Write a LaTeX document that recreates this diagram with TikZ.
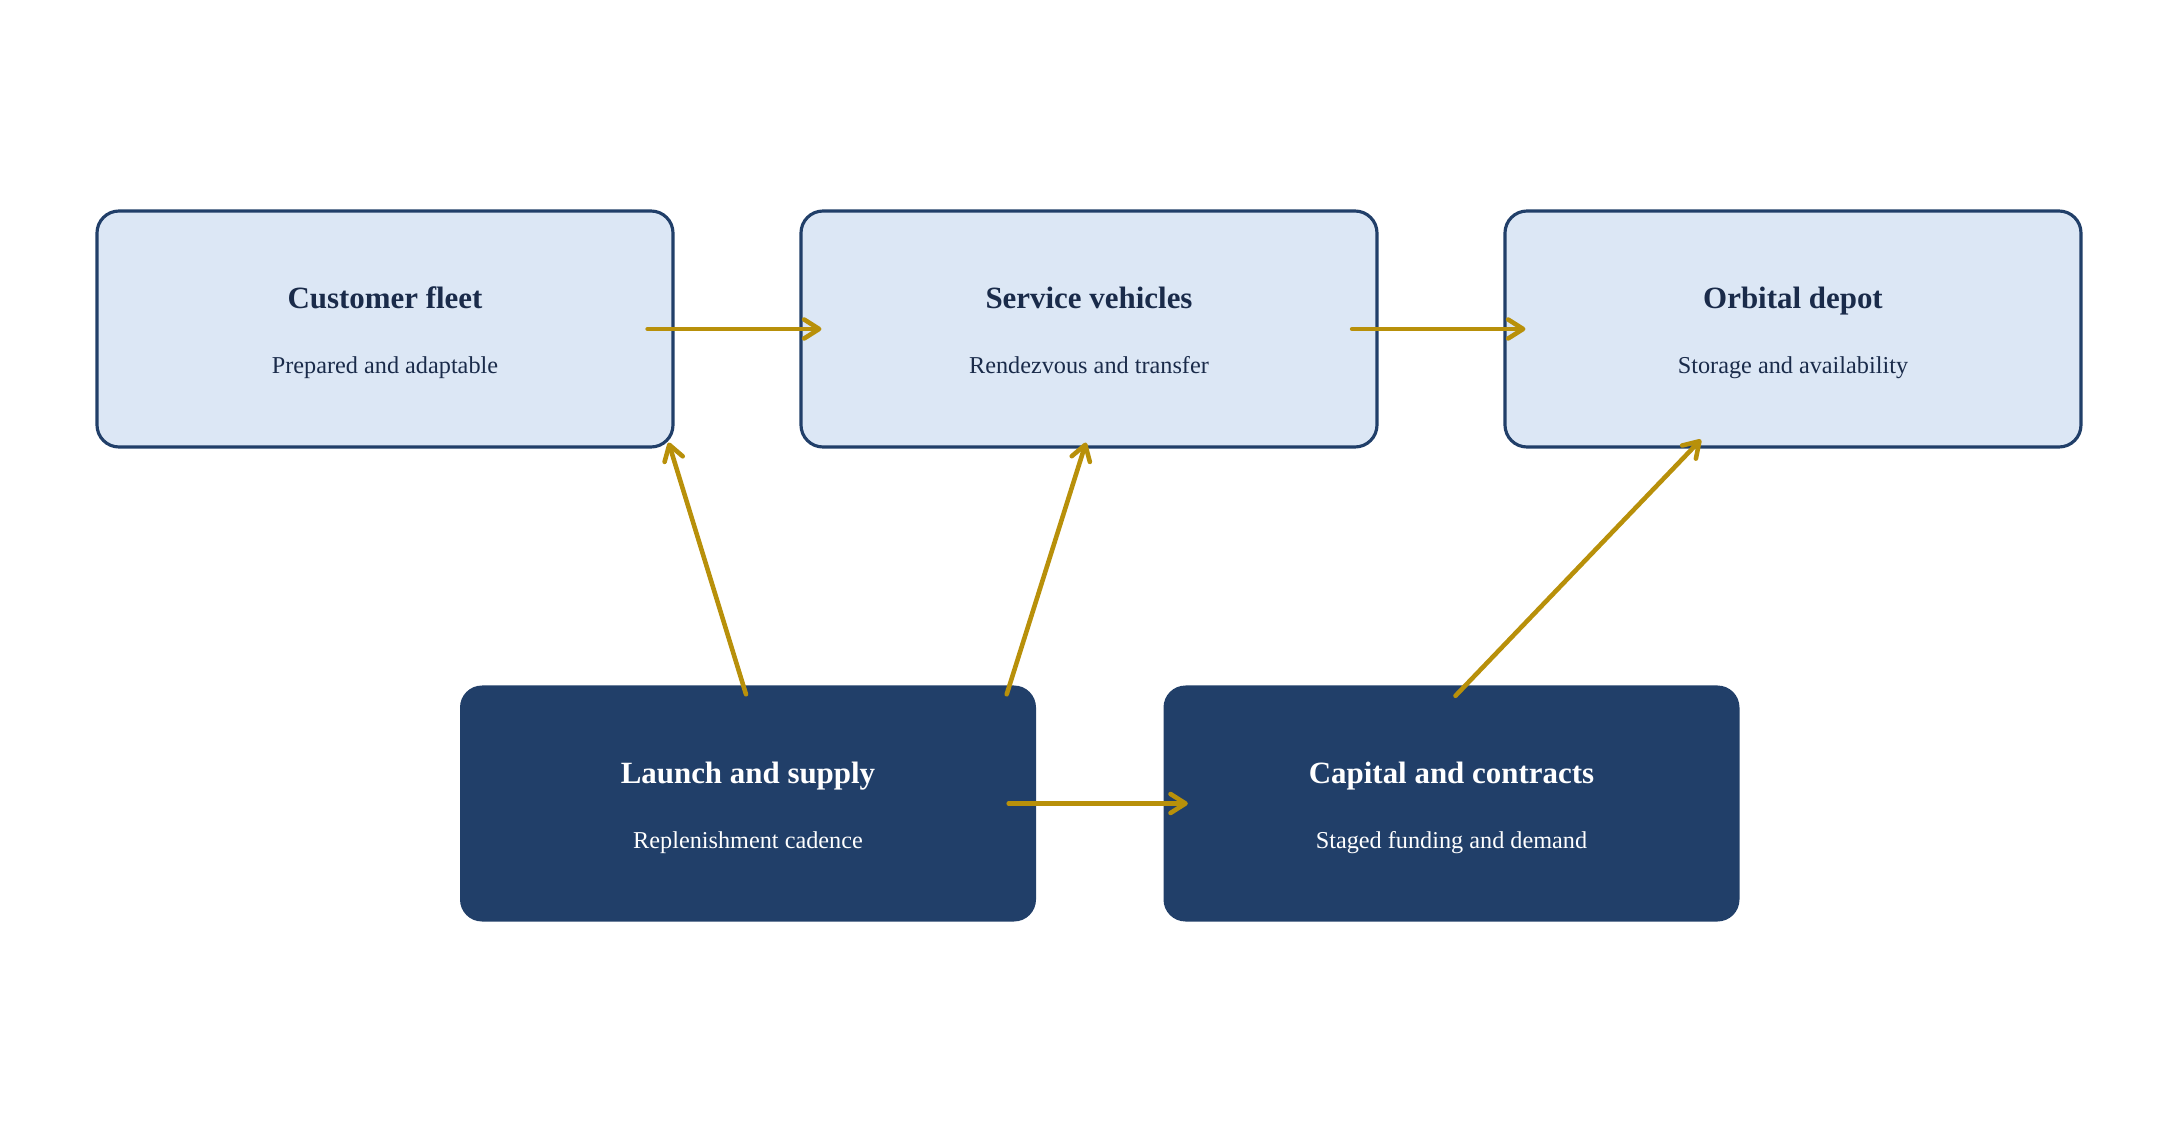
\documentclass[tikz,border=0pt]{standalone}
\usepackage{fontspec}
\setmainfont{Liberation Serif}
\usepackage{xcolor}
\usetikzlibrary{positioning,calc,arrows.meta}

\definecolor{lightfill}{HTML}{DCE7F5}
\definecolor{navy}{HTML}{213F69}
\definecolor{ink}{HTML}{1A2B4A}
\definecolor{gold}{HTML}{B8900A}

\tikzset{
    card/.style={rectangle, rounded corners=0.22cm, minimum width=5.76cm, minimum height=2.36cm},
    lightcard/.style={card, draw=navy, line width=0.9pt, fill=lightfill},
    darkcard/.style={card, fill=navy},
    cardtitle/.style={font=\fontsize{8.8}{10}\selectfont\bfseries, inner sep=0pt, anchor=base},
    cardsub/.style={font=\fontsize{6.9}{8}\selectfont, inner sep=0pt, anchor=base},
    flow/.style={draw=gold, line width=1.3pt, line cap=round, -{Straight Barb[length=1.5mm,width=1.9mm,round]}}
}

\begin{document}
\begin{tikzpicture}
    \useasboundingbox (0,0) rectangle (21.78,11.22);

    % Upper row
    \node[lightcard] (cust) at (3.85,7.93) {};
    \node[lightcard] (serv) at (10.89,7.93) {};
    \node[lightcard] (depot) at (17.93,7.93) {};

    \node[cardtitle, text=ink] (custT) at ([yshift=0.2cm]cust.center) {Customer fleet};
    \node[cardsub, text=ink] (custS) at ([yshift=-0.45cm]cust.center) {Prepared and adaptable};
    \node[cardtitle, text=ink] (servT) at ([yshift=0.2cm]serv.center) {Service vehicles};
    \node[cardsub, text=ink] (servS) at ([yshift=-0.45cm]serv.center) {Rendezvous and transfer};
    \node[cardtitle, text=ink] (depotT) at ([yshift=0.2cm]depot.center) {Orbital depot};
    \node[cardsub, text=ink] (depotS) at ([yshift=-0.45cm]depot.center) {Storage and availability};

    % Lower row
    \node[darkcard] (launch) at (7.48,3.185) {};
    \node[darkcard] (capital) at (14.515,3.185) {};

    \node[cardtitle, text=white] (launchT) at ([yshift=0.2cm]launch.center) {Launch and supply};
    \node[cardsub, text=white] (launchS) at ([yshift=-0.45cm]launch.center) {Replenishment cadence};
    \node[cardtitle, text=white] (capitalT) at ([yshift=0.2cm]capital.center) {Capital and contracts};
    \node[cardsub, text=white] (capitalS) at ([yshift=-0.45cm]capital.center) {Staged funding and demand};

    % Flows
    \draw[flow] ([xshift=-0.27cm]cust.east) -- ([xshift=0.22cm]serv.west);
    \draw[flow] ([xshift=-0.265cm]serv.east) -- ([xshift=0.22cm]depot.west);
    \draw[flow] ([xshift=-0.28cm]launch.east) -- ([xshift=0.25cm]capital.west);
    \draw[flow] ($(launch.north)+(-0.02,-0.095)$) -- ($(cust.south east)+(-0.06,0.06)$);
    \draw[flow] ($(launch.north east)+(-0.30,-0.095)$) -- ($(serv.south)+(-0.03,0.06)$);
    \draw[flow] ($(capital.north)+(0.04,-0.11)$) -- ($(depot.south)+(-0.92,0.09)$);
\end{tikzpicture}
\end{document}
